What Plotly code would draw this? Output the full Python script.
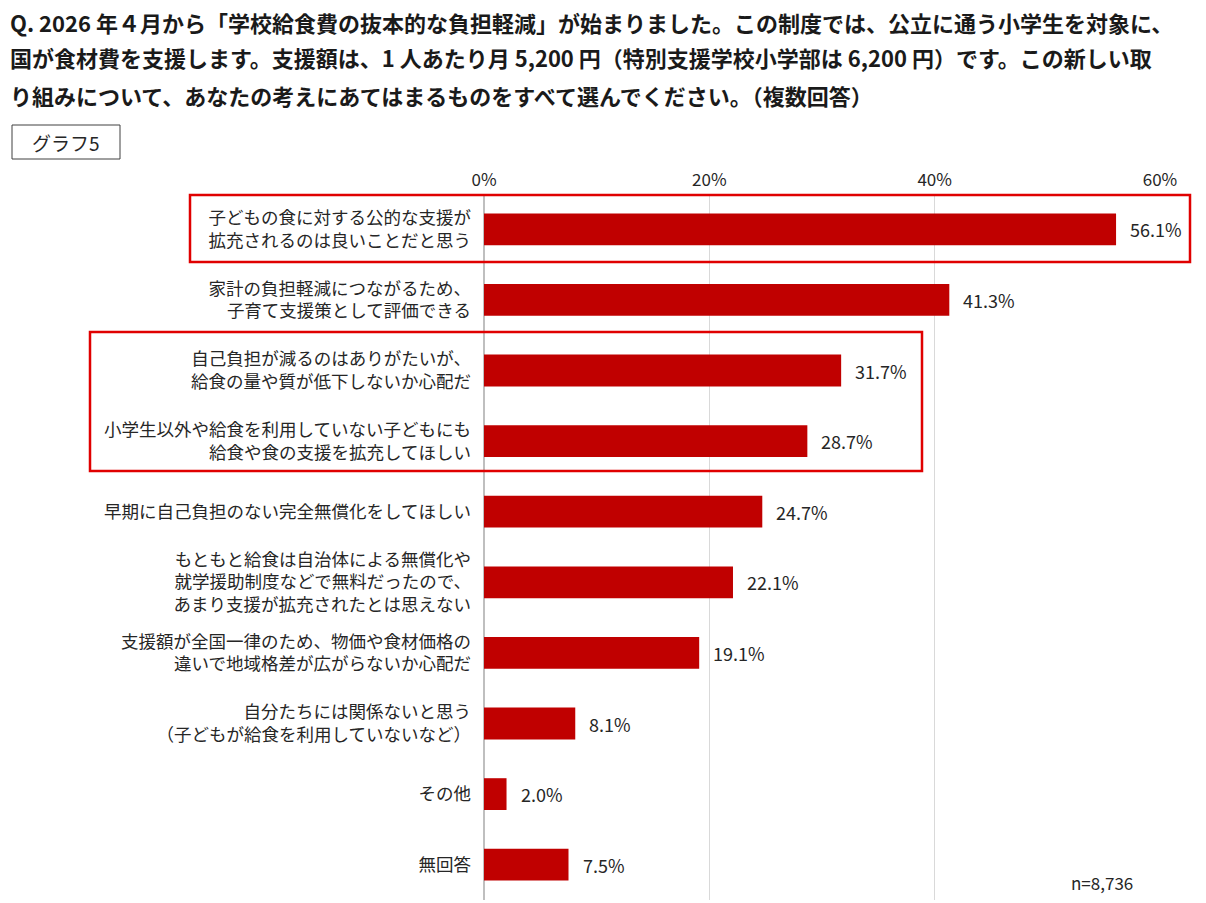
import plotly.graph_objects as go

# data
categories = [
    "子どもの食に対する公的な支援が<br>拡充されるのは良いことだと思う",
    "家計の負担軽減につながるため、<br>子育て支援策として評価できる",
    "自己負担が減るのはありがたいが、<br>給食の量や質が低下しないか心配だ",
    "小学生以外や給食を利用していない子どもにも<br>給食や食の支援を拡充してほしい",
    "早期に自己負担のない完全無償化をしてほしい",
    "もともと給食は自治体による無償化や<br>就学援助制度などで無料だったので、<br>あまり支援が拡充されたとは思えない",
    "支援額が全国一律のため、物価や食材価格の<br>違いで地域格差が広がらないか心配だ",
    "自分たちには関係ないと思う<br>（子どもが給食を利用していないなど）",
    "その他",
    "無回答",
]
values = [56.1, 41.3, 31.7, 28.7, 24.7, 22.1, 19.1, 8.1, 2.0, 7.5]

tick_vals = [0, 20, 40, 60]
tick_text = ["0%", "20%", "40%", "60%"]

title_lines = [
    "Q. 2026 年４月から「学校給食費の抜本的な負担軽減」が始まりました。この制度では、公立に通う小学生を対象に、",
    "国が食材費を支援します。支援額は、1 人あたり月 5,200 円（特別支援学校小学部は 6,200 円）です。この新しい取",
    "り組みについて、あなたの考えにあてはまるものをすべて選んでください。（複数回答）",
]
graph_label = "グラフ5"
n_label = "n=8,736"

FONT = "Noto Sans CJK JP"
OFF = 8  # page body margin
W, H = 1206 - OFF, 903 - OFF
L, R, T, B = 484 - OFF, 1160 - OFF, 194 - OFF, 900 - OFF


def px(x):
    return (x - OFF - L) / (R - L)


def py(y):
    return (B - (y - OFF)) / (B - T)


fig = go.Figure()
fig.add_trace(go.Bar(
    x=values,
    y=categories,
    orientation="h",
    marker=dict(color="#C00000", line=dict(width=0)),
    width=0.45,
    hoverinfo="x+y",
))

# value labels
for c, v in zip(categories, values):
    fig.add_annotation(x=v, y=c, text=f"{v:.1f}%", showarrow=False,
                       xanchor="left", xshift=12,
                       font=dict(family=FONT, size=18, color="#262626"))

ann = []
for i, line in enumerate(title_lines):
    ann.append(dict(x=px(9), y=py([22, 57, 95][i]), xref="paper", yref="paper",
                    text="<b>" + line + "</b>", showarrow=False, borderpad=0,
                    xanchor="left", yanchor="middle",
                    font=dict(family=FONT, size=22, color="#1a1a1a")))
ann.append(dict(x=px(66), y=py(142), xref="paper", yref="paper", text=graph_label,
                showarrow=False, xanchor="center", yanchor="middle",
                font=dict(family=FONT, size=19, color="#262626")))
ann.append(dict(x=px(1135), y=py(882), xref="paper", yref="paper", text=n_label,
                showarrow=False, xanchor="right", yanchor="middle",
                font=dict(family=FONT, size=17, color="#262626")))
for a in ann:
    fig.add_annotation(**a)

shapes = [
    dict(type="rect", xref="paper", yref="paper", x0=px(12), x1=px(120), y0=py(125), y1=py(159),
         line=dict(color="#404040", width=1)),
    dict(type="rect", xref="paper", yref="paper", x0=px(190), x1=px(1190), y0=py(195), y1=py(262),
         line=dict(color="#E00000", width=2.5)),
    dict(type="rect", xref="paper", yref="paper", x0=px(90), x1=px(922), y0=py(332), y1=py(471),
         line=dict(color="#E00000", width=2.5)),
]
for s in shapes:
    fig.add_shape(**s)

fig.update_layout(
    width=W, height=H,
    margin=dict(l=L, r=W - R, t=T, b=H - B),
    plot_bgcolor="white", paper_bgcolor="white",
    showlegend=False,
    font=dict(family=FONT, color="#262626"),
    xaxis=dict(range=[0, 60], side="top", tickvals=tick_vals, ticktext=tick_text,
               showgrid=True, gridcolor="#D9D9D9", gridwidth=1,
               zeroline=True, zerolinecolor="#BFBFBF", zerolinewidth=1.5,
               showline=False, ticks="", ticklabelstandoff=4,
               tickfont=dict(family=FONT, size=17, color="#262626"), fixedrange=True),
    yaxis=dict(categoryorder="array", categoryarray=categories, autorange="reversed",
               showgrid=False, zeroline=False, showline=False, ticks="",
               ticklabelstandoff=12,
               tickfont=dict(family=FONT, size=17.5, color="#262626"), fixedrange=True),
    bargap=0.55,
)

fig.write_html("out.html")
